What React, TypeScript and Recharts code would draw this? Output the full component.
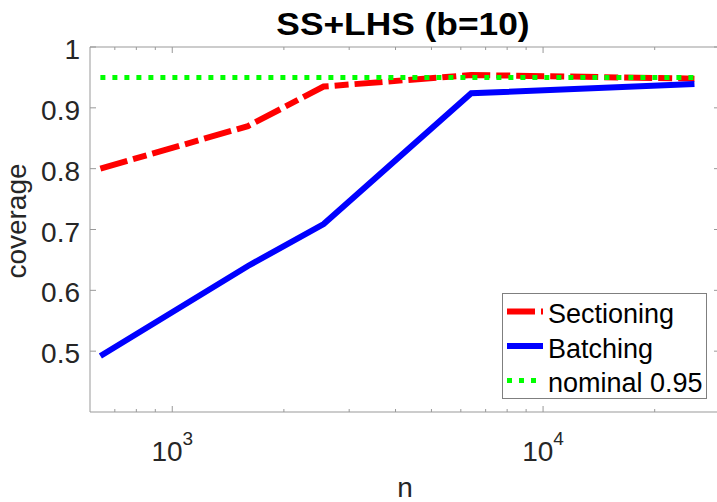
import { LineChart, Line, XAxis, YAxis, Legend, ReferenceLine } from "recharts";

const nValues = [640, 1600, 2560, 6400, 25600];
const sectioning = [0.8, 0.87, 0.935, 0.954, 0.948];
const batching = [0.492, 0.64, 0.709, 0.924, 0.939];
const nominal = [0.95, 0.95, 0.95, 0.95, 0.95];

const xTicks = [
  700, 800, 900, 1000, 2000, 3000, 4000, 5000, 6000, 7000, 8000, 9000, 10000, 20000, 30000,
];
const yTicks = [0.5, 0.6, 0.7, 0.8, 0.9, 1];

const W = 717;
const H = 502;
const PLOT_TOP = 47;
const PLOT_LEFT = 90;
const PLOT_RIGHT = 720;
const AXIS = "#999999";
const TEXT = "#262626";
const FONT = "'Liberation Sans', Arial, sans-serif";

const SERIES = [
  { key: "sectioning", name: "Sectioning", color: "#ff0000", width: 6, dash: "28 6 14 6" },
  { key: "batching", name: "Batching", color: "#0000ff", width: 6, dash: undefined },
  { key: "nominal", name: "nominal 0.95", color: "#00ff00", width: 5, dash: "5 7" },
];

const data = nValues.map((n, i) => ({
  n,
  sectioning: sectioning[i],
  batching: batching[i],
  nominal: nominal[i],
}));

function XTick(props: any) {
  const { x, y, payload } = props;
  const exp = Math.log10(payload.value);
  const major = Math.abs(exp - Math.round(exp)) < 1e-9;
  const len = major ? 6 : 3;
  return (
    <g>
      <line x1={x} x2={x} y1={y} y2={y - len} stroke={AXIS} />
      <line x1={x} x2={x} y1={PLOT_TOP} y2={PLOT_TOP + len} stroke={AXIS} />
      {major && (
        <text x={x} y={y + 49} textAnchor="middle" fontSize={28} fill={TEXT} fontFamily={FONT}>
          <tspan>10</tspan>
          <tspan dy={-16} fontSize={19}>
            {Math.round(exp)}
          </tspan>
        </text>
      )}
    </g>
  );
}

function YTick(props: any) {
  const { x, y, payload } = props;
  const label = String(Number(payload.value.toFixed(1)));
  return (
    <g>
      <line x1={x} x2={x + 6} y1={y} y2={y} stroke={AXIS} />
      <line x1={PLOT_RIGHT - 6} x2={PLOT_RIGHT} y1={y} y2={y} stroke={AXIS} />
      <text x={x - 10} y={y + 12} textAnchor="end" fontSize={28} fill={TEXT} fontFamily={FONT}>
        {label}
      </text>
    </g>
  );
}

function YLabel() {
  return (
    <text
      x={26}
      y={221}
      transform="rotate(-90, 26, 221)"
      textAnchor="middle"
      fontSize={28}
      fill={TEXT}
      fontFamily={FONT}
    >
      coverage
    </text>
  );
}

function XLabel() {
  return (
    <text x={405} y={497} textAnchor="middle" fontSize={28} fill={TEXT} fontFamily={FONT}>
      n
    </text>
  );
}

function LegendBox() {
  const rows = [18.5, 53, 87.5];
  return (
    <svg width={205} height={106} style={{ display: "block" }}>
      <rect x={0.5} y={0.5} width={204} height={105} fill="#ffffff" stroke="#7f7f7f" />
      {SERIES.map((s, i) => (
        <g key={s.key}>
          <line
            x1={5}
            x2={41}
            y1={rows[i]}
            y2={rows[i]}
            stroke={s.color}
            strokeWidth={s.width}
            strokeDasharray={s.dash}
          />
          <text x={46} y={rows[i] + 11.5} fontSize={27} fill="#000000" fontFamily={FONT}>
            {s.name}
          </text>
        </g>
      ))}
    </svg>
  );
}

export default function App() {
  return (
    <div style={{ position: "absolute", left: 0, top: 0, width: W, height: H, background: "#fff" }}>
      <LineChart
        width={W}
        height={H}
        data={data}
        margin={{ top: PLOT_TOP, right: W - PLOT_RIGHT, bottom: 0, left: 0 }}
      >
        <XAxis
          dataKey="n"
          type="number"
          scale="log"
          domain={[600, 30000]}
          allowDataOverflow
          ticks={xTicks}
          interval={0}
          height={90}
          tickSize={0}
          tickMargin={0}
          tickLine={false}
          axisLine={{ stroke: AXIS }}
          tick={<XTick />}
          label={<XLabel />}
        />
        <YAxis
          type="number"
          domain={[0.4, 1]}
          allowDataOverflow
          ticks={yTicks}
          interval={0}
          width={PLOT_LEFT}
          tickSize={0}
          tickMargin={0}
          tickLine={false}
          axisLine={{ stroke: AXIS }}
          tick={<YTick />}
          label={<YLabel />}
        />
        <ReferenceLine y={1} stroke={AXIS} />
        {SERIES.map((s) => (
          <Line
            key={s.key}
            type="linear"
            dataKey={s.key}
            name={s.name}
            stroke={s.color}
            strokeWidth={s.width}
            strokeDasharray={s.dash}
            dot={false}
            activeDot={false}
            isAnimationActive={false}
          />
        ))}
        <Legend
          layout="vertical"
          align="center"
          verticalAlign="middle"
          content={<LegendBox />}
          wrapperStyle={{ position: "absolute", left: 502, top: 293, width: 205, height: 106 }}
        />
      </LineChart>
      <svg
        width={W}
        height={46}
        style={{ position: "absolute", left: 0, top: 0, pointerEvents: "none" }}
      >
        <text
          x={403}
          y={35}
          textAnchor="middle"
          fontSize={31}
          fontWeight="bold"
          fill="#000000"
          fontFamily={FONT}
          transform="translate(403,0) scale(1.14,1) translate(-403,0)"
        >
          SS+LHS (b=10)
        </text>
      </svg>
    </div>
  );
}
